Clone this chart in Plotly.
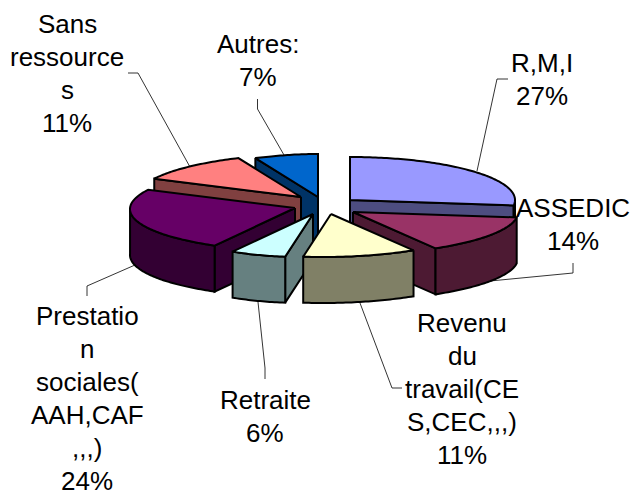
import numpy as np
import plotly.graph_objects as go

# --- data
categories = ["R,M,I", "ASSEDIC", "Revenu du travail(CES,CEC,,,)", "Retraite",
              "Prestation sociales(AAH,CAF,,,)", "Sans ressources", "Autres:"]
values = [27, 14, 11, 6, 24, 11, 7]
label_lines = [
    ["R,M,I", "27%"],
    ["ASSEDIC", "14%"],
    ["Revenu", "du", "travail(CE", "S,CEC,,,)", "11%"],
    ["Retraite", "6%"],
    ["Prestatio", "n", "sociales(", "AAH,CAF", ",,,)", "24%"],
    ["Sans", "ressource", "s", "11%"],
    ["Autres:", "7%"],
]

# --- styles and layout
top_colors = ["#9999FF", "#993366", "#FFFFCC", "#CCFFFF", "#660066", "#FF8080", "#0066CC"]
side_colors = ["#4D4D80", "#4D1A33", "#808066", "#668080", "#330033", "#804040", "#003366"]
apex = [(350, 200), (353, 212), (331, 214), (313, 214), (295, 208), (301, 197), (318, 197)]
draw_order = [6, 5, 0, 4, 1, 3, 2]
RX, RY, DEPTH = 165, 43, 46
# horizontal foreshortening of the 3D view, in degrees of apparent angle
VIEW_ANGLES = [0, 97, 150, 190, 212, 295, 340, 360]
VIEW_SHIFT = [0, 0, 2.5, 2.5, 0, 2, 3, 0]
label_pos = [(542, 63), (573, 208), (462, 323), (265, 400), (87, 316), (67, 24), (258, 44)]
LINE_STEP = 33
FONT = dict(family="Liberation Sans, Arial, sans-serif", size=26, color="black")
leaders = [
    [(508, 79), (497, 79), (477, 171)],
    [(573, 263), (573, 273), (490, 281)],
    [(402, 388), (392, 388), (360, 303)],
    [(265, 379), (265, 368), (258, 302)],
    [(87, 296), (87, 286), (135, 265)],
    [(128, 73), (138, 73), (190, 167)],
    [(257.5, 99), (257.5, 109), (284, 155)],
]

fig = go.Figure()


def face(xs, ys, color, name):
    fig.add_trace(go.Scatter(
        x=list(xs) + [xs[0]], y=list(ys) + [ys[0]], mode="lines", fill="toself",
        fillcolor=color, line=dict(color="black", width=2, simplify=False),
        hoverinfo="text", text=name, showlegend=False))


def arc(ax, ay, a1, a2):
    deg = np.linspace(a1, a2, max(int(abs(a2 - a1)) + 2, 2))
    seen = deg + np.interp(deg, VIEW_ANGLES, VIEW_SHIFT)
    return ax + RX * np.sin(np.radians(seen)), ay - RY * np.cos(np.radians(deg))


edges = np.cumsum([0] + values) / sum(values) * 360
for i in draw_order:
    a1, a2 = edges[i], edges[i + 1]
    ax, ay = apex[i]
    for ang, visible in ((a1, np.sin(np.radians(a1)) < -1e-6), (a2, np.sin(np.radians(a2)) > 1e-6)):
        if visible:
            ex, ey = arc(ax, ay, ang, ang)
            px, py = ex[0], ey[0]
            face([ax, px, px, ax], [ay, py, py + DEPTH, ay + DEPTH], side_colors[i], categories[i])
    w1, w2 = max(a1, 90), min(a2, 270)
    if w2 > w1:
        wx, wy = arc(ax, ay, w1, w2)
        face(list(wx) + list(wx[::-1]), list(wy) + list(wy[::-1] + DEPTH), side_colors[i], categories[i])
    tx, ty = arc(ax, ay, a1, a2)
    face([ax] + list(tx), [ay] + list(ty), top_colors[i], categories[i])

for pts in leaders:
    fig.add_trace(go.Scatter(x=[p[0] for p in pts], y=[p[1] for p in pts], mode="lines",
                             line=dict(color="black", width=0.8), hoverinfo="skip", showlegend=False))

for lines, (lx, ly) in zip(label_lines, label_pos):
    for j, line in enumerate(lines):
        fig.add_annotation(x=lx, y=ly + j * LINE_STEP, text=line, showarrow=False,
                           xanchor="center", yanchor="middle", font=FONT)

fig.update_layout(
    width=631, height=490, margin=dict(l=0, r=0, t=0, b=0),
    paper_bgcolor="white", plot_bgcolor="white",
    xaxis=dict(range=[0, 631], visible=False, fixedrange=True),
    yaxis=dict(range=[490, 0], visible=False, fixedrange=True),
)
fig.write_html("out.html", config=dict(displayModeBar=False),
               post_script="document.body.style.margin='0';")
